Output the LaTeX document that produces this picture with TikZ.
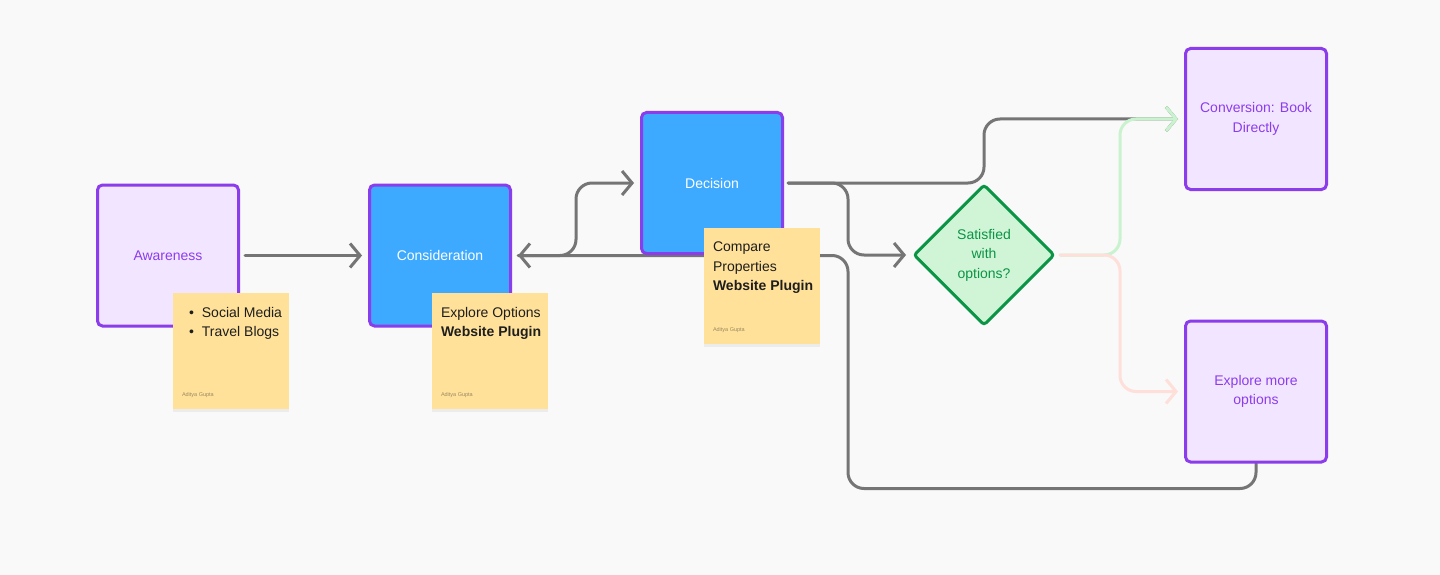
\documentclass[tikz,border=0pt]{standalone}
\usepackage{fontspec}
\setmainfont{Liberation Sans}
\usetikzlibrary{shapes.geometric, arrows.meta, positioning, calc, backgrounds, shadows}
\definecolor{canvasgrey}{HTML}{F9F9F9}
\definecolor{stagepurple}{HTML}{8B3DEB}
\definecolor{lavender}{HTML}{F2E5FF}
\definecolor{stageblue}{HTML}{3DAAFF}
\definecolor{noteyellow}{HTML}{FFE199}
\definecolor{mint}{HTML}{CFF5D6}
\definecolor{forest}{HTML}{0B9445}
\definecolor{linegrey}{HTML}{757575}
\definecolor{palegreen}{HTML}{C9F3CF}
\definecolor{palered}{HTML}{FFDFD9}
\definecolor{inkdark}{HTML}{1E1E1E}
\definecolor{authorgrey}{HTML}{9A8A62}

\begin{document}
\begin{tikzpicture}[x=1pt, y=-1pt,
  stage/.style={rectangle, rounded corners=5pt, draw=stagepurple, line width=3pt,
    minimum width=141pt, minimum height=141pt, inner sep=0pt, align=center,
    font=\fontsize{14}{19.5}\selectfont},
  lavenderstage/.style={fill=lavender, text=stagepurple},
  bluestage/.style={fill=stageblue, text=white},
  choice/.style={diamond, aspect=1, draw=forest, fill=mint, line width=3pt,
    rounded corners=3pt, minimum width=141pt, minimum height=141pt, inner sep=0pt,
    text=forest, align=center, font=\fontsize{14}{19.5}\selectfont},
  sticky/.style={rectangle, fill=noteyellow, minimum width=116pt, minimum height=116pt,
    inner sep=0pt, drop shadow={opacity=0.1, shadow xshift=0pt, shadow yshift=-3pt}},
  notetext/.style={anchor=north west, inner sep=0pt, align=left, text=inkdark,
    font=\fontsize{14}{19.5}\selectfont},
  author/.style={anchor=west, inner sep=0pt, text=authorgrey, font=\fontsize{5.5}{6}\selectfont},
  flow/.style={draw=linegrey, line width=3pt, rounded corners=16pt, line cap=round,
    -{Straight Barb[length=10pt, width=24pt]}}]
  \useasboundingbox (0,0) rectangle (1440,575);

  % Journey stages
  \node[stage, lavenderstage] (aware) at (168,255.5) {Awareness};
  \node[stage, bluestage] (consider) at (440,255.5) {Consideration};
  \node[stage, bluestage] (decide) at (712,183) {Decision};
  \node[choice] (satisfied) at (984,255) {Satisfied\\with\\options?};
  \node[stage, lavenderstage] (book) at (1256,119) {Conversion: Book\\Directly};
  \node[stage, lavenderstage] (more) at (1256,391.5) {Explore more\\options};

  % Connectors, kept behind the stages
  \begin{scope}[on background layer]
    \fill[canvasgrey] (0,0) rectangle (1440,575);
    \coordinate (loopback) at ($(decide.east |- consider.east)+(64,0)$);
    \draw[flow, shorten <=5pt, shorten >=6pt] (aware.east) -- (consider.west);
    \draw[flow, shorten <=6pt, shorten >=6pt] (consider.east) -- ++(64,0) |- (decide.west);
    \draw[flow, shorten <=4pt, shorten >=6pt] (decide.east) -- ++(64,0) |- (satisfied.west);
    \draw[flow, shorten <=4pt, shorten >=6pt] (decide.east) -- (satisfied.north |- decide.east)
      -- (satisfied.north |- book.west) -- (book.west);
    \draw[flow, shorten >=6pt] (more.south) -- ++(0,25) -| (loopback) -- (consider.east);
    % Yes / no branches
    \draw[flow, draw=palegreen, shorten <=4pt, shorten >=6pt] (satisfied.east) -- ++(64,0) |- (book.west);
    \draw[flow, draw=palered, shorten <=4pt, shorten >=6pt] (satisfied.east) -- ++(64,0) |- (more.west);
  \end{scope}

  % Sticky notes
  \node[sticky] (awarenote) at (231,351) {};
  \node[notetext] (awaretext) at ([xshift=16pt, yshift=-14pt]awarenote.north west)
    {\textbullet\hspace{8pt}Social Media\\\textbullet\hspace{8pt}Travel Blogs};
  \node[author] (awareauthor) at ([xshift=9pt, yshift=14pt]awarenote.south west) {Aditya Gupta};

  \node[sticky] (considernote) at (490,351) {};
  \node[notetext] (considertext) at ([xshift=9pt, yshift=-14pt]considernote.north west)
    {Explore Options\\\textbf{Website Plugin}};
  \node[author] (considerauthor) at ([xshift=9pt, yshift=14pt]considernote.south west) {Aditya Gupta};

  \node[sticky] (decidenote) at (762,286) {};
  \node[notetext] (decidetext) at ([xshift=9pt, yshift=-14pt]decidenote.north west)
    {Compare\\Properties\\\textbf{Website Plugin}};
  \node[author] (decideauthor) at ([xshift=9pt, yshift=14pt]decidenote.south west) {Aditya Gupta};
\end{tikzpicture}
\end{document}
